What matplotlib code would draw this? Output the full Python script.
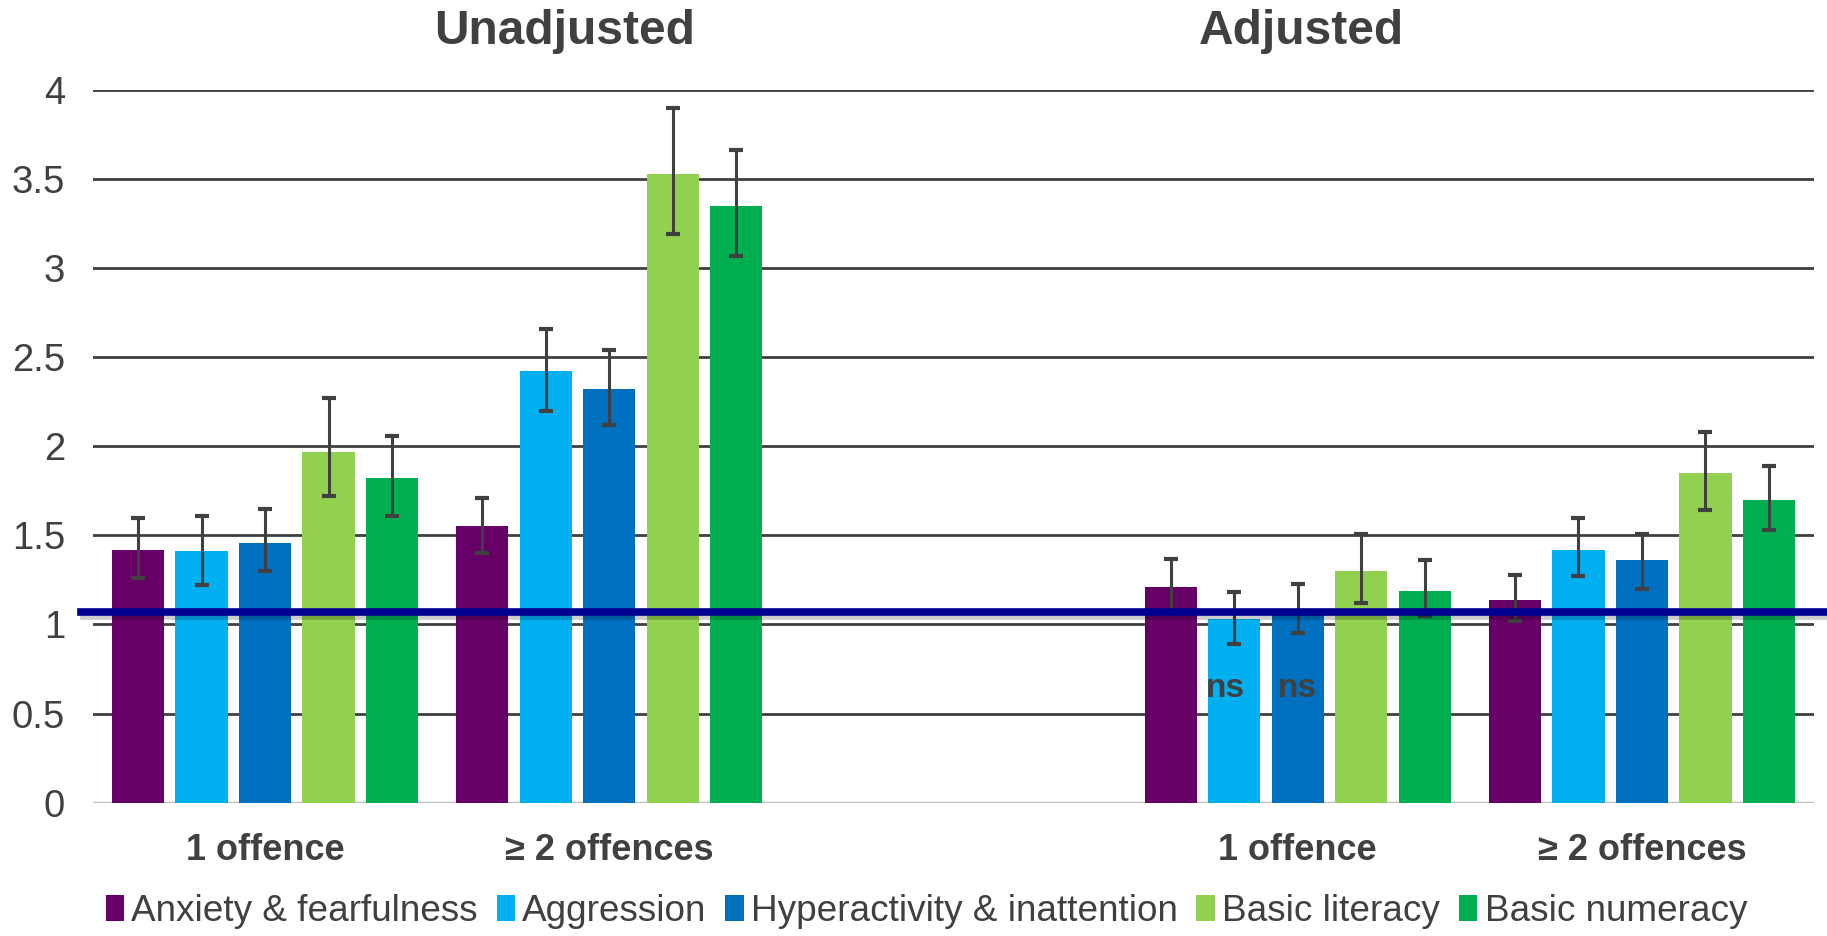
import numpy as np
import matplotlib
matplotlib.use("Agg")
import matplotlib.pyplot as plt
import matplotlib.patheffects as pe

plt.rcParams['font.family'] = ['Liberation Sans', 'DejaVu Sans']

# Categories (middle slot is an empty spacer between panels)
categories = ['1 offence', '\u2265 2 offences', '', '1 offence', '\u2265 2 offences']
series = ['Anxiety & fearfulness', 'Aggression', 'Hyperactivity & inattention',
          'Basic literacy', 'Basic numeracy']
colors = ['#660066', '#00B0F0', '#0070C0', '#92D050', '#00B050']

# values per series across the 5 category slots (nan = empty)
anxiety = [1.42, 1.55, np.nan, 1.21, 1.14]
aggression = [1.41, 2.42, np.nan, 1.03, 1.42]
hyperactivity = [1.46, 2.32, np.nan, 1.08, 1.36]
literacy = [1.97, 3.53, np.nan, 1.30, 1.85]
numeracy = [1.82, 3.35, np.nan, 1.19, 1.70]

# confidence interval bounds
anxiety_lo = [1.26, 1.40, np.nan, 1.06, 1.02]
anxiety_hi = [1.60, 1.71, np.nan, 1.37, 1.28]
aggression_lo = [1.22, 2.20, np.nan, 0.89, 1.27]
aggression_hi = [1.61, 2.66, np.nan, 1.18, 1.60]
hyperactivity_lo = [1.30, 2.12, np.nan, 0.95, 1.20]
hyperactivity_hi = [1.65, 2.54, np.nan, 1.23, 1.51]
literacy_lo = [1.72, 3.19, np.nan, 1.12, 1.64]
literacy_hi = [2.27, 3.90, np.nan, 1.51, 2.08]
numeracy_lo = [1.61, 3.07, np.nan, 1.05, 1.53]
numeracy_hi = [2.06, 3.66, np.nan, 1.36, 1.89]

reference_line = 1.07
panel_titles = ['Unadjusted', 'Adjusted']

values = [anxiety, aggression, hyperactivity, literacy, numeracy]
lows = [anxiety_lo, aggression_lo, hyperactivity_lo, literacy_lo, numeracy_lo]
highs = [anxiety_hi, aggression_hi, hyperactivity_hi, literacy_hi, numeracy_hi]

fig = plt.figure(figsize=(18.27, 9.36), dpi=100)
ax = fig.add_axes([0.0509, 0.1424, 0.942, 0.7616])

x = np.arange(len(categories))
step = 0.1845
width = 0.152
txt = '#404040'

for i, (vals, lo, hi, col, name) in enumerate(zip(values, lows, highs, colors, series)):
    v = np.array(vals, dtype=float)
    pos = x + (i - 2) * step
    err = np.vstack([v - np.array(lo), np.array(hi) - v])
    ax.bar(pos, v, width=width, color=col, label=name, zorder=3)
    ax.errorbar(pos, v, yerr=err, fmt='none', ecolor='#404040', elinewidth=2.2,
                capsize=5, capthick=3, zorder=4)

# non-significant markers (aggression and hyperactivity, adjusted 1 offence)
ax.text(3 - step - 0.027, 0.64, 'ns', ha='center', va='center', fontsize=24,
        fontweight='bold', color=txt, zorder=5)
ax.text(3, 0.64, 'ns', ha='center', va='center', fontsize=24,
        fontweight='bold', color=txt, zorder=5)

ax.axhline(reference_line, xmin=-0.007, xmax=1.006, clip_on=False, color='#000090',
           lw=5.5, zorder=6,
           path_effects=[pe.SimpleLineShadow(offset=(2, -3), alpha=0.2), pe.Normal()])

ax.set_xlim(-0.5, 4.5)
ax.set_ylim(0, 4)
ax.set_yticks(np.arange(0, 4.01, 0.5))
ax.set_yticklabels(['0', '0.5', '1', '1.5', '2', '2.5', '3', '3.5', '4'])
for yv in np.arange(0.5, 4.01, 0.5):
    ax.axhline(yv, color='#404040', lw=2, zorder=1)
ax.axhline(0, color='#BFBFBF', lw=2.5, zorder=2)

ax.set_xticks(x)
ax.set_xticklabels(categories, fontsize=26, fontweight='bold', color=txt)
ax.tick_params(axis='x', length=0, pad=22)
ax.tick_params(axis='y', length=0, pad=20, labelsize=27.5, labelcolor=txt)
for s in ax.spines.values():
    s.set_visible(False)

ax.text(0.871, 4.33, panel_titles[0], ha='center', va='center', fontsize=34.5,
        fontweight='bold', color=txt, clip_on=False)
ax.text(3.01, 4.33, panel_titles[1], ha='center', va='center', fontsize=34.5,
        fontweight='bold', color=txt, clip_on=False)

leg = fig.legend(*ax.get_legend_handles_labels(), loc='center', bbox_to_anchor=(0.507, 0.026),
                 ncol=5, frameon=False, fontsize=26.6, handlelength=0.5, handleheight=0.7,
                 handletextpad=0.2, columnspacing=0.5, labelcolor=txt)

fig.savefig('out.png', dpi=100)
